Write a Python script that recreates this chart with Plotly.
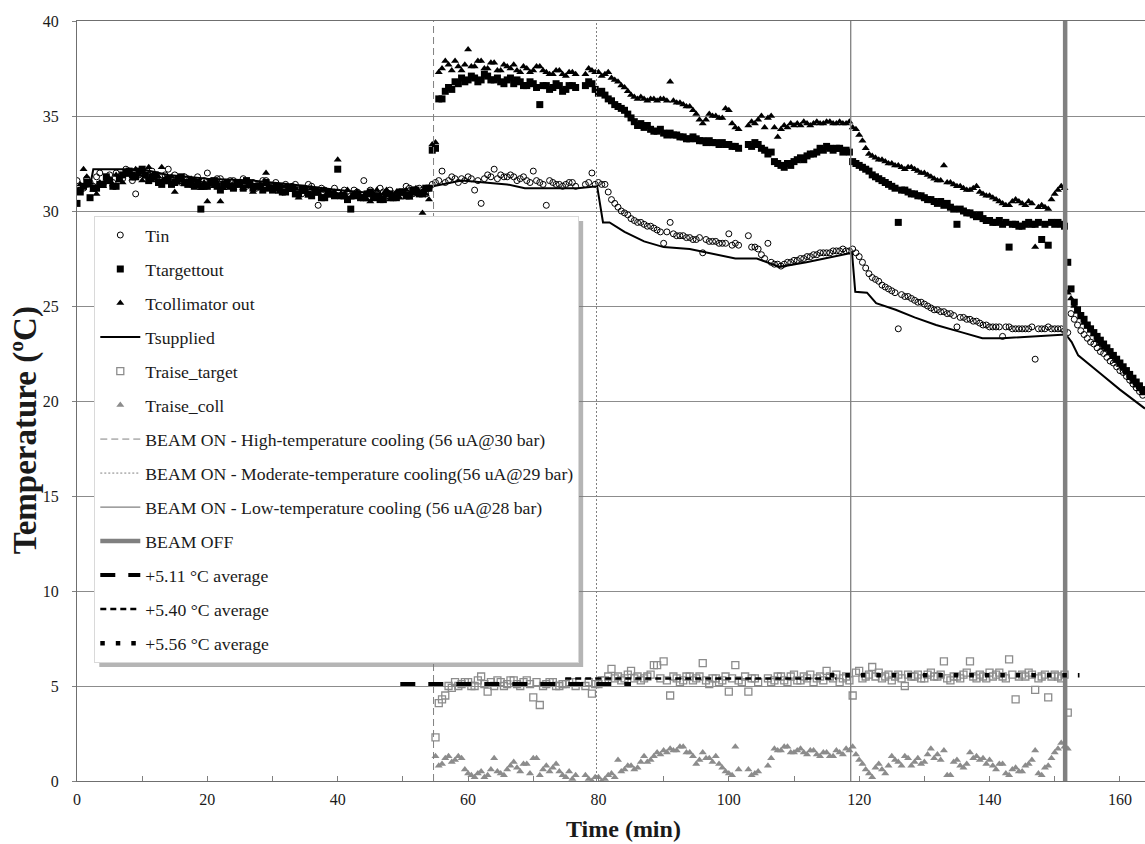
import plotly.graph_objects as go

# ---------------------------------------------------------------- data ----
# cooling-water thermocouples, one reading every half minute
time_min = [i * 0.5 for i in range(328)]

t_in = [
    31.6, 31.1, 31.2, 31.7, 31.5, 31.3, 31.8, 32.0, 31.4, 31.6, 31.9, 31.5, 32.0, 31.8, 31.7, 32.2, 32.1, 31.6, 30.9, 31.9,
    32.0, 31.7, 31.9, 32.1, 31.7, 31.5, 31.8, 31.9, 32.2, 31.6, 31.9, 31.7, 31.5, 31.8, 31.7, 31.4, 31.6, 31.8, 31.4, 31.6,
    32.0, 31.5, 31.5, 31.7, 31.7, 31.3, 31.4, 31.6, 31.6, 31.4, 31.5, 31.7, 31.3, 31.5, 31.5, 31.2, 31.4, 31.6, 31.6, 31.3,
    31.3, 31.5, 31.2, 31.0, 31.4, 31.2, 31.3, 31.4, 31.1, 30.9, 31.2, 31.4, 31.3, 31.1, 30.3, 31.2, 31.1, 30.9, 30.9, 31.2,
    31.0, 30.8, 31.1, 30.9, 30.8, 31.1, 31.0, 30.7, 31.6, 30.9, 31.1, 30.8, 30.9, 31.2, 31.0, 30.8, 31.1, 30.9, 30.8, 31.0,
    31.0, 31.3, 31.2, 30.9, 31.0, 31.2, 31.1, 30.9, 31.2, 31.4, 31.5, 31.6, 32.1, 31.5, 31.6, 31.8, 31.7, 31.5, 31.7, 31.6,
    31.8, 31.7, 31.1, 31.6, 30.4, 31.7, 31.9, 31.8, 32.2, 31.7, 31.9, 31.8, 31.8, 31.9, 31.8, 31.6, 31.7, 31.8, 31.6, 31.5,
    32.1, 31.6, 31.5, 31.4, 30.3, 31.6, 31.5, 31.4, 31.4, 31.3, 31.4, 31.5, 31.5, 31.3, None, None, 31.4, 31.5, 32.0, 31.4,
    31.5, 31.4, 31.4, 31.0, 30.6, 30.4, 30.2, 30.0, 29.9, 29.8, 29.6, 29.5, 29.4, 29.4, 29.3, 29.2, 29.2, 29.1, 29.0, 28.9,
    28.3, 28.9, 29.4, 28.8, 28.7, 28.7, 28.7, 28.6, 28.6, 28.5, 28.5, 28.6, 27.8, 28.5, 28.4, 28.4, 28.4, 28.3, 28.3, 28.3,
    28.8, 28.2, 28.3, 28.2, None, None, 28.7, 28.1, 28.1, 28.0, 27.7, 27.5, 28.3, 27.3, 27.2, 27.2, 27.1, 27.2, 27.3, 27.3,
    27.4, 27.4, 27.5, 27.5, 27.6, 27.6, 27.7, 27.7, 27.8, 27.8, 27.8, 27.8, 27.9, 27.9, 27.9, 28.0, 27.9, 27.9, 28.0, 27.8,
    27.6, 27.3, 27.0, 26.7, 26.5, 26.4, 26.3, 26.1, 26.0, 25.9, 25.8, 25.7, 23.8, 25.6, 25.5, 25.5, 25.4, 25.3, 25.2, 25.2,
    25.1, 25.0, 24.9, 24.8, 24.8, 24.7, 24.7, 24.6, 24.6, 24.5, 23.9, 24.4, 24.4, 24.3, 24.3, 24.2, 24.2, 24.1, 24.0, 24.0,
    23.9, 23.9, 23.9, 23.9, 23.4, 23.9, 23.9, 23.8, 23.8, 23.8, 23.8, 23.8, 23.8, 23.9, 22.2, 23.8, 23.8, 23.8, 23.9, 23.8,
    23.8, 23.8, 23.8, 23.7, 23.6, 24.6, 24.3, 24.0, 23.7, 23.5, 23.3, 23.1, 23.0, 22.8, 22.6, 22.5, 22.3, 22.1, 22.0, 21.8,
    21.6, 21.5, 21.3, 21.1, 20.9, 20.7, 20.5, 20.3,
]

t_target_out = [
    30.4, 31.0, 31.3, 31.5, 30.7, 31.2, 31.2, 31.4, 31.4, 31.8, 31.6, 31.3, 31.3, 31.7, 31.9, 32.0, 32.1, 31.9, 31.8, 32.1,
    32.2, 31.9, 31.6, 31.8, 31.9, 31.5, 31.4, 31.6, 31.7, 31.4, 31.5, 31.7, 31.8, 31.5, 31.4, 31.6, 31.3, 31.5, 30.1, 31.3,
    31.3, 31.5, 31.6, 31.3, 31.1, 31.4, 31.5, 31.3, 31.2, 31.5, 31.4, 31.2, 31.6, 31.4, 31.2, 31.3, 31.3, 31.1, 31.5, 31.2,
    31.1, 31.3, 31.3, 31.0, 31.0, 31.2, 31.2, 30.9, 30.9, 31.2, 31.1, 30.9, 30.8, 31.1, 31.0, 30.7, 30.7, 31.0, 30.9, 30.8,
    32.2, 30.8, 30.8, 30.6, 30.1, 30.8, 30.9, 30.7, 30.7, 30.9, 31.0, 30.7, 30.8, 30.6, 30.6, 30.9, 30.9, 30.7, 30.7, 31.0,
    31.0, 30.8, 30.8, 31.1, 31.1, 30.9, 30.9, 31.2, 31.2, 33.2, 33.3, 35.9, 35.9, 36.3, 36.5, 36.4, 36.8, 36.7, 37.0, 36.8,
    36.9, 37.1, 37.0, 36.8, 36.9, 37.2, 37.1, 36.9, 36.9, 37.0, 36.8, 36.7, 36.9, 37.0, 36.7, 36.9, 36.8, 36.6, 36.6, 36.8,
    36.7, 36.5, 35.6, 36.6, 36.6, 36.4, 36.5, 36.7, 36.6, 36.3, 36.4, 36.6, 36.6, 36.5, None, None, 36.6, 36.8, 36.7, 36.4,
    36.2, 36.3, 36.1, 35.9, 35.8, 35.6, 35.5, 35.4, 35.3, 35.1, 34.9, 34.7, 34.5, 34.6, 34.4, 34.5, 34.3, 34.2, 34.2, 34.3,
    34.1, 34.0, 34.1, 34.0, 34.0, 33.9, 33.9, 33.8, 33.8, 33.9, 33.8, 33.7, 33.7, 33.6, 33.7, 33.6, 33.6, 33.5, 33.6, 33.5,
    33.5, 33.4, 33.4, 33.3, None, None, 33.5, 33.4, 33.6, 33.5, 33.3, 33.2, 33.0, 33.1, 32.6, 32.5, 32.4, 32.3, 32.5, 32.4,
    32.6, 32.7, 32.8, 32.7, 32.9, 33.0, 33.0, 33.1, 33.3, 33.2, 33.4, 33.3, 33.2, 33.3, 33.3, 33.1, 33.2, 33.1, 32.6, 32.5,
    32.4, 32.3, 32.2, 32.1, 31.9, 31.8, 31.7, 31.6, 31.5, 31.4, 31.3, 31.2, 29.4, 31.1, 31.1, 31.0, 30.9, 30.9, 30.8, 30.8,
    30.7, 30.6, 30.6, 30.5, 30.4, 30.5, 30.3, 30.4, 30.2, 30.1, 29.3, 30.1, 30.0, 29.9, 29.9, 29.8, 29.7, 29.8, 29.6, 29.5,
    29.5, 29.4, 29.4, 29.5, 29.3, 29.4, 28.1, 29.3, 29.3, 29.2, 29.2, 29.3, 29.4, 29.3, 29.3, 29.4, 28.5, 29.3, 28.2, 29.4,
    29.3, 29.4, 29.3, 29.2, 27.3, 25.9, 25.2, 24.8, 24.5, 24.3, 24.0, 23.8, 23.6, 23.4, 23.2, 23.0, 22.8, 22.6, 22.4, 22.2,
    22.0, 21.8, 21.6, 21.4, 21.2, 21.0, 20.8, 20.6,
]

t_coll_out = [
    31.0, 31.4, 32.2, 31.8, 31.5, 31.1, 30.9, 31.5, 31.3, 31.6, 31.7, 31.4, 31.9, 31.6, 31.5, 31.9, 32.0, 31.7, 32.2, 31.9,
    31.6, 31.8, 32.3, 31.6, 31.7, 31.8, 32.3, 31.6, 31.5, 31.8, 31.0, 31.5, 31.6, 31.4, 31.4, 31.7, 31.6, 31.3, 31.2, 31.5,
    30.5, 31.4, 31.3, 31.5, 30.5, 31.2, 31.5, 31.3, 31.2, 31.4, 31.4, 31.2, 31.3, 31.5, 31.0, 31.3, 31.4, 31.2, 32.0, 31.3,
    31.2, 31.1, 31.0, 31.3, 31.3, 31.1, 31.1, 31.2, 30.7, 31.0, 31.0, 30.8, 31.2, 31.0, 30.9, 31.1, 31.1, 30.9, 30.8, 31.0,
    32.7, 30.9, 30.9, 31.1, 30.7, 30.9, 31.0, 30.8, 30.8, 30.6, 30.5, 30.9, 31.1, 30.8, 30.9, 31.1, 30.6, 30.8, 31.0, 30.7,
    30.9, 31.1, 30.7, 30.9, 31.2, 31.0, 29.9, 30.9, 30.6, 33.5, 33.6, 37.3, 37.5, 37.9, 37.7, 37.4, 37.9, 37.6, 37.4, 37.7,
    38.5, 37.6, 37.6, 37.9, 37.9, 37.5, 37.5, 37.8, 37.8, 37.4, 37.4, 37.7, 37.6, 37.5, 37.7, 37.4, 37.3, 37.6, 37.5, 37.3,
    37.4, 37.6, 37.6, 37.4, 37.3, 37.2, 37.2, 37.4, 37.4, 37.2, 37.1, 37.3, 37.3, 37.2, None, None, 37.2, 37.5, 37.4, 37.3,
    37.3, 37.1, 37.2, 37.3, 37.0, 36.9, 36.8, 36.6, 36.5, 36.3, 36.1, 36.0, 35.9, 36.0, 35.9, 35.8, 35.9, 35.9, 35.8, 35.9,
    35.9, 35.8, 36.8, 35.8, 35.7, 35.7, 35.6, 35.5, 35.5, 35.3, 35.1, 34.8, 34.6, 34.8, 35.1, 35.0, 35.0, 34.9, 34.9, 35.4,
    35.3, 34.6, 34.4, 34.3, None, None, 34.5, 34.7, 34.6, 34.8, 35.0, 34.4, 34.9, 35.0, 34.4, 33.9, 34.3, 34.5, 34.4, 34.6,
    34.5, 34.6, 34.5, 34.7, 34.6, 34.5, 34.6, 34.7, 34.6, 34.6, 34.7, 34.7, 34.6, 34.6, 34.7, 34.6, 34.6, 34.7, 34.4, 34.3,
    34.0, 33.7, 33.3, 33.0, 32.9, 32.8, 32.7, 32.7, 32.6, 32.5, 32.5, 32.4, 32.4, 32.3, 32.2, 32.3, 32.3, 32.2, 32.1, 32.0,
    32.0, 31.9, 31.8, 31.7, 31.6, 31.6, 32.4, 31.5, 31.5, 31.4, 31.3, 31.3, 31.2, 31.1, 31.1, 31.2, 31.3, 31.0, 30.9, 30.8,
    30.8, 30.7, 30.6, 30.5, 30.4, 30.3, 30.3, 30.5, 30.6, 30.5, 30.4, 30.3, 30.5, 30.4, 28.1, 30.2, 30.3, 30.2, 30.1, 30.6,
    30.9, 31.1, 31.3, 31.2, 25.7, 25.4, 25.0, 24.7, 24.4, 24.1, 23.9, 23.7, 23.5, 23.2, 23.0, 22.8, 22.7, 22.5, 22.3, 22.1,
    21.9, 21.7, 21.5, 21.2, 21.0, 20.8, 20.6, 20.4,
]

# chiller set-point (break points of the supply curve)
supply_time = [0, 2, 2.5, 10, 14, 20, 27, 33, 40, 47, 52, 54.6, 59, 63, 66,
               68.7, 76.8, 79.8, 80.7, 81.7, 84, 87, 90, 94, 97, 101, 104.3,
               107.8, 111.9, 118.9, 119.4, 121.2, 122.6, 125.6, 128.5, 131.8,
               135.9, 138.9, 142, 146.5, 150.8, 151.7, 152.6, 153.6, 157, 160,
               163.85]
supply_temp = [31.2, 31.3, 32.2, 32.2, 31.9, 31.7, 31.6, 31.4, 31.1, 30.9,
               31.0, 31.3, 31.6, 31.5, 31.4, 31.2, 31.2, 31.3, 29.4, 29.4,
               28.9, 28.4, 28.1, 28.0, 27.8, 27.5, 27.5, 27.06, 27.3, 27.8,
               25.75, 25.7, 25.15, 24.8, 24.4, 24.0, 23.6, 23.3, 23.3, 23.4,
               23.5, 23.5, 23.1, 22.4, 21.45, 20.6, 19.6]

# temperature rise across target and collimator while the beam is on
raise_time = [55 + i * 0.5 for i in range(195)]
raise_target = [
    2.3, 4.1, 4.3, 4.5, 5.0, 4.9, 5.2, 5.0, 5.1, 5.2,
    5.2, 5.0, 5.0, 5.3, 5.5, 5.1, 4.7, 5.2, 5.0, 5.3,
    5.2, 5.0, 5.1, 5.3, 5.3, 5.1, 5.0, 5.2, 5.3, 5.1,
    4.4, 5.2, 4.0, 5.0, 5.1, 5.2, 5.2, 5.0, 5.0, 5.1,
    5.1, 5.2, 5.2, 5.0, None, None, 5.0, 5.2, 4.6, 5.1,
    5.1, 5.3, 5.3, 5.5, 5.9, 5.4, 5.5, 5.3, 5.4, 5.6,
    5.8, 5.4, 5.5, 5.3, 5.4, 5.5, 5.6, 6.1, 6.1, 5.4,
    6.3, 5.3, 4.5, 5.5, 5.4, 5.2, 5.3, 5.5, 5.5, 5.3,
    5.4, 5.5, 6.2, 5.3, 5.1, 5.4, 5.4, 5.2, 5.3, 5.5,
    4.7, 5.4, 6.1, 5.3, 5.2, 5.5, 4.7, 5.4, 5.4, 5.2,
    None, None, 5.4, 5.2, 5.3, 5.5, 5.5, 5.3, 5.2, 5.5,
    5.6, 5.3, 5.3, 5.5, 5.4, 5.6, 5.2, 5.4, 5.5, 5.3,
    5.8, 5.5, 5.4, 5.6, 5.2, 5.4, 5.5, 5.3, 4.5, 5.7,
    5.8, 5.4, 5.5, 5.6, 6.0, 5.5, 5.7, 5.4, 5.5, 5.6,
    5.3, 5.5, 5.6, 5.4, 5.0, 5.6, 5.5, 5.5, 5.6, 5.4,
    5.4, 5.6, 5.7, 5.5, 5.5, 5.6, 6.3, 5.4, 5.3, 5.5,
    5.5, 5.4, 5.6, 5.7, 6.3, 5.5, 5.4, 5.6, 5.5, 5.4,
    5.7, 5.5, 5.6, 5.7, 5.5, 5.4, 6.4, 5.6, 4.3, 5.5,
    5.6, 5.5, 5.7, 5.6, 4.8, 5.4, 5.5, 5.6, 4.4, 5.5,
    5.6, 5.5, 5.4, 5.6, 3.6,
]
raise_coll = [
    1.3, 0.8, 0.9, 1.2, 1.3, 1.0, 1.1, 1.3, 1.2, 0.6,
    0.4, 0.3, 0.2, 0.4, 0.5, 0.2, 0.3, 0.6, 1.2, 0.5,
    0.4, 0.3, 0.6, 0.8, 1.0, 0.7, 0.5, 0.9, 0.9, 0.4,
    1.2, 1.2, 0.3, 0.6, 0.8, 0.5, 0.7, 0.9, 0.5, 0.3,
    0.2, 0.5, 0.1, 0.3, None, None, 0.3, 0.1, 0.0, 0.2,
    0.2, 0.0, 0.1, 0.3, 0.4, 0.2, 1.1, 0.5, 0.6, 0.8,
    0.8, 0.6, 0.7, 1.0, 1.3, 1.0, 1.1, 1.3, 1.5, 1.4,
    1.6, 1.5, 1.7, 1.6, 1.6, 1.8, 1.8, 1.5, 1.5, 1.3,
    0.9, 1.1, 1.5, 1.2, 1.2, 1.0, 1.3, 0.9, 0.7, 0.5,
    0.4, 0.3, 1.8, 0.6, None, None, 0.6, 0.3, 0.4, 0.5,
    None, None, 0.8, 1.2, 1.7, 1.6, 1.6, 1.8, 1.8, 1.5,
    1.5, 1.6, 1.7, 1.5, 1.4, 1.6, 1.6, 1.4, 1.3, 1.5,
    1.5, 1.3, 1.3, 1.6, 1.5, 1.4, 1.7, 1.6, 1.8, 1.4,
    1.1, 0.9, 0.6, 0.4, 0.2, 0.7, 0.9, 0.6, 0.4, 0.8,
    1.3, 1.1, 1.0, 0.8, 1.3, 1.2, 0.8, 1.0, 1.2, 0.9,
    1.0, 1.4, 1.7, 1.2, 1.4, 1.1, 1.6, 0.3, 0.3, 1.0,
    1.1, 0.8, 0.7, 0.9, 1.5, 1.2, 1.3, 1.1, 1.2, 0.9,
    1.1, 0.8, 0.6, 0.9, 0.9, 0.4, 0.3, 0.6, 0.7, 0.5,
    0.5, 0.8, 0.9, 1.1, 1.6, 0.4, 0.3, 0.7, 0.8, 1.2,
    1.5, 1.7, 2.0, 1.8, 1.7,
]

for series in (t_in, t_target_out, t_coll_out):
    assert len(series) == len(time_min)
for series in (raise_target, raise_coll):
    assert len(series) == len(raise_time)

# beam events (min)
event_times = [54.7, 79.7, 118.7, 151.6]
event_names = [
    "BEAM ON - High-temperature cooling (56 uA@30 bar)",
    "BEAM ON - Moderate-temperature cooling(56 uA@29 bar)",
    "BEAM ON - Low-temperature cooling (56 uA@28 bar)",
    "BEAM OFF",
]

# average temperature rise for each cooling regime
avg_values = [5.11, 5.40, 5.56]
avg_start = [49.6, 74.9, 115.5]
avg_end = [85.0, 116.5, 153.8]
avg_names = ["+5.11 °C average", "+5.40 °C average", "+5.56 °C average"]

# ------------------------------------------------------------- styling ----
FONT = "Liberation Serif"
INK = "#1a1a1a"
GRAY = "#8c8c8c"
LINE_GRAY = "#808080"
Y_MAX = 40
X_MAX = 163.85

fig = go.Figure()

def add(trace, idx):
    trace.legendgroup = f"g{idx}"
    fig.add_trace(trace)

add(go.Scatter(x=time_min, y=t_in, mode="markers", name="Tin",
               marker=dict(symbol="circle-open", size=6, color="black",
                           line=dict(width=1, color="black"))), 0)
add(go.Scatter(x=time_min, y=t_target_out, mode="markers", name="Ttargettout",
               marker=dict(symbol="square", size=7, color="black")), 1)
add(go.Scatter(x=time_min, y=t_coll_out, mode="markers", name="Tcollimator out",
               marker=dict(symbol="triangle-up", size=7, color="black")), 2)
add(go.Scatter(x=supply_time, y=supply_temp, mode="lines", name="Tsupplied",
               line=dict(color="black", width=2)), 3)
add(go.Scatter(x=raise_time, y=raise_target, mode="markers", name="Traise_target",
               marker=dict(symbol="square-open", size=7, color=GRAY,
                           line=dict(width=1.3, color=GRAY))), 4)
add(go.Scatter(x=raise_time, y=raise_coll, mode="markers", name="Traise_coll",
               marker=dict(symbol="triangle-up", size=7, color=GRAY)), 5)

event_styles = [
    dict(color=LINE_GRAY, width=1, dash="7px,4px"),
    dict(color=LINE_GRAY, width=1, dash="2px,2px"),
    dict(color=LINE_GRAY, width=1.3),
    dict(color=LINE_GRAY, width=4.5),
]
for i, (t, name, st) in enumerate(zip(event_times, event_names, event_styles)):
    add(go.Scatter(x=[t, t], y=[0, Y_MAX], mode="lines", name=name,
                   line=st), 6 + i)

avg_styles = [
    dict(color="black", width=4, dash="15px,13px"),
    dict(color="black", width=2.5, dash="6px,4px"),
    dict(color="black", width=4.5, dash="4.5px,11px"),
]
for i, (v, a, b, name, st) in enumerate(zip(avg_values, avg_start, avg_end,
                                             avg_names, avg_styles)):
    add(go.Scatter(x=[a, b], y=[v, v], mode="lines", name=name, line=st),
        10 + i)

# pixel geometry of the plotting area, used to place the legend and titles
L, R, T, B = 76.7, 1145, 21, 781
def px_x(p):
    return (p - L) / (R - L)
def px_y(p):
    return (B - p) / (B - T)

leg_left, leg_top, leg_right, leg_bottom = 94, 216, 578, 662
shadow = 5

# drop shadow behind the legend box
fig.add_shape(type="rect", xref="paper", yref="paper", layer="above",
              x0=px_x(leg_left + shadow), x1=px_x(leg_right + shadow),
              y0=px_y(leg_bottom + shadow), y1=px_y(leg_top + shadow),
              line=dict(width=0), fillcolor="rgba(120,120,120,0.55)")

fig.add_annotation(text="<b>Time (min)</b>", xref="paper", yref="paper",
                   x=px_x(623), y=px_y(829), showarrow=False,
                   xanchor="center", yanchor="middle",
                   font=dict(family=FONT, size=24, color=INK))
fig.add_annotation(text="<b>Temperature (ºC)</b>", xref="paper", yref="paper",
                   x=px_x(25), y=px_y(430), showarrow=False, textangle=-90,
                   xanchor="center", yanchor="middle",
                   font=dict(family=FONT, size=33, color=INK))

fig.update_layout(
    width=1145, height=844,
    margin=dict(l=77, r=0, t=21, b=63),
    paper_bgcolor="white", plot_bgcolor="white",
    font=dict(family=FONT, size=16, color=INK),
    showlegend=True,
    legend=dict(x=px_x(leg_left), y=px_y(leg_top), xanchor="left", yanchor="top",
                bgcolor="white", bordercolor="#d9d9d9", borderwidth=1,
                font=dict(family=FONT, size=17.7, color=INK),
                tracegroupgap=8, itemwidth=40, traceorder="grouped"),
    xaxis=dict(range=[0, X_MAX], tick0=0, dtick=20, showgrid=False,
               zeroline=False, showline=True, mirror=True,
               linecolor="#6f6f6f", linewidth=1,
               ticks="inside", ticklen=5, tickcolor=LINE_GRAY,
               ticklabelstandoff=4,
               minor=dict(dtick=10, ticks="inside", ticklen=5,
                          tickcolor=LINE_GRAY, showgrid=False),
               tickfont=dict(family=FONT, size=16, color=INK)),
    yaxis=dict(range=[0, Y_MAX], tick0=0, dtick=5, showgrid=True,
               gridcolor=GRAY, gridwidth=1, zeroline=False,
               showline=True, linecolor="#6f6f6f", linewidth=1,
               ticks="outside", ticklen=4, tickcolor=LINE_GRAY,
               ticklabelstandoff=10,
               tickfont=dict(family=FONT, size=16, color=INK)),
)

fig.write_html("out.html")
